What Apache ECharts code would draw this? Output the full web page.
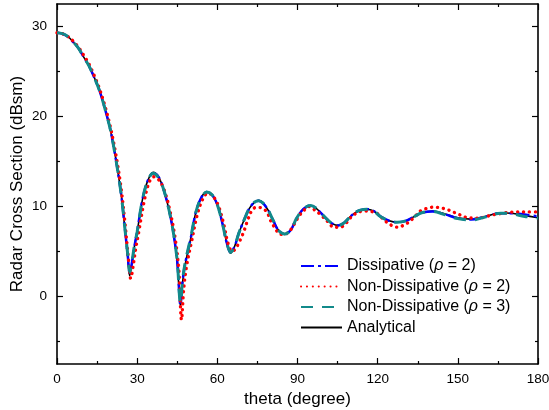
<!DOCTYPE html>
<html>
<head>
<meta charset="utf-8">
<script src="https://cdn.jsdelivr.net/npm/echarts@6/dist/echarts.min.js"></script>
<style>
html,body{margin:0;padding:0;background:#fff;}
#chart{width:549px;height:410px;}
</style>
</head>
<body>
<div id="chart"></div>
<script>
// ---- data ----
var xTicks = [0, 30, 60, 90, 120, 150, 180];
var yTickLabels = [0, 10, 20, 30];
var yMinorTicks = [-5, 5, 15, 25];

var thetaA = [0,2,4,6,8,10,12,14,16,18,20,22,24,25.5,26.5,27.2,28,29,30,32,34,36,38,40,42,43.6,45,46.2,47,48,50,52,54,56,58,60,62,63.5,65,66.5,68,70,72,74,75.5,77,79,81,83,85.3,87.5,89.5,91.5,93.5,95,97,99,101,103,105.3,107.5,109.5,111.5,113.5,116,118.5,121,124,127.4,130.5,133.5,136.5,140.5,145,150,155,160.5,166,170,175,180];
var rcsAnalytical = [29.3,29.2,28.9,28.3,27.6,26.6,25.6,24.3,22.8,20.8,18.5,15.3,11.4,7.2,4.3,2.3,3.6,5.6,7.2,10.8,12.9,13.8,13.3,11.8,9.5,7.0,3.8,-1.1,1.6,3.6,6.4,9.4,11.0,11.6,11.3,10.2,8.0,6.0,4.8,5.6,7.0,8.5,9.8,10.5,10.7,10.4,9.6,8.4,7.3,6.9,7.4,8.6,9.5,10.0,10.1,9.8,9.2,8.6,8.1,7.9,8.2,8.8,9.3,9.6,9.7,9.5,8.9,8.45,8.25,8.4,8.85,9.3,9.5,9.2,8.75,8.6,8.9,9.3,9.25,9.0,8.75];

var rcsDissipative = [29.3,29.2,28.9,28.3,27.6,26.6,25.6,24.3,22.8,20.8,18.5,15.3,11.4,7.3,4.5,2.6,3.7,5.6,7.2,10.8,12.9,13.7,13.3,11.8,9.5,7.0,3.9,-0.9,1.7,3.7,6.4,9.4,11.0,11.6,11.3,10.2,8.0,6.0,4.9,5.6,7.0,8.5,9.8,10.5,10.65,10.4,9.6,8.4,7.3,6.95,7.4,8.6,9.5,10.0,10.1,9.8,9.2,8.6,8.1,7.9,8.2,8.8,9.3,9.6,9.7,9.5,8.9,8.45,8.25,8.4,8.85,9.3,9.45,9.15,8.7,8.55,8.9,9.25,9.25,9.1,8.9];

var rcsNonDissP3 = [29.3,29.2,28.9,28.3,27.6,26.6,25.6,24.3,22.8,20.8,18.5,15.3,11.4,7.3,4.6,2.7,3.8,5.7,7.2,10.8,12.9,13.7,13.2,11.8,9.5,7.0,3.9,-0.7,1.8,3.8,6.5,9.4,11.0,11.6,11.3,10.2,8.0,6.0,4.9,5.6,7.0,8.5,9.8,10.5,10.65,10.4,9.6,8.4,7.3,6.95,7.4,8.6,9.5,10.0,10.1,9.8,9.2,8.6,8.1,7.9,8.2,8.8,9.3,9.6,9.7,9.5,8.9,8.45,8.25,8.4,8.85,9.3,9.45,9.1,8.65,8.5,8.85,9.25,9.2,8.9,8.7];

var thetaR = [0,2,4,6,8,10,12,14,16,18,20,22,24,25.5,26.8,27.6,28.5,29.5,30.5,32.5,34.5,36.3,38.5,40.5,42.5,44.2,45.6,46.6,47.4,48.5,50.5,52.5,54.5,56.5,58.5,60.5,62.5,64,65.6,67,68.6,70,71.5,73,74.5,76.5,78.5,80,81.8,83,84.5,86.5,88.5,90.5,92.5,94.5,96.5,99,101.4,103.6,106,108,110,113,116,119.9,122.4,124.9,127.4,129.6,131.8,134,136,138.6,141.1,143.6,146.1,148.4,150.8,153,156.5,160,162,167,170,175,180];
var rcsNonDissP2 = [29.3,29.2,28.9,28.4,27.7,26.8,25.8,24.5,23.0,21.1,18.8,15.8,12.0,8.0,4.0,2.0,3.4,5.4,7.0,10.4,12.7,13.3,12.8,11.5,9.2,6.5,3.0,-2.6,0.8,3.4,6.3,9.1,10.8,11.5,11.1,10.0,7.9,5.9,5.0,5.4,6.3,7.3,8.6,9.6,9.9,9.85,9.4,8.4,7.5,7.0,6.9,7.1,7.9,8.9,9.6,10.0,9.6,9.0,8.3,7.7,7.7,8.1,8.8,9.4,9.5,9.2,8.5,7.95,7.7,7.9,8.3,8.9,9.5,9.8,9.93,9.85,9.65,9.37,9.07,8.8,8.7,8.8,9.0,9.26,9.37,9.4,9.4];

var seriesNames = ['Dissipative', 'Non-Dissipative (p2)', 'Non-Dissipative (p3)', 'Analytical'];

function pairs(xs, ys){ return xs.map(function(x,i){ return [x, ys[i]]; }); }

var FONT = '"Liberation Sans", Arial, sans-serif';
var chart = echarts.init(document.getElementById('chart'), null, {renderer:'canvas'});

var axisLineStyle = {color:'#000', width:1.6};
function xAx(pos, labels){
  return {
    type:'value', position:pos, min:0, max:180, interval:30,
    axisLine:{show:true, onZero:false, lineStyle:axisLineStyle},
    axisTick:{show:true, inside:true, length:6, lineStyle:{color:'#000', width:1.2}},
    minorTick:{show:true, splitNumber:2, length:3, lineStyle:{color:'#000', width:1.2}},
    axisLabel:{show:labels, color:'#000', fontSize:13.5, fontFamily:FONT, margin:8},
    splitLine:{show:false}, minorSplitLine:{show:false},
    name: labels ? 'theta (degree)' : '', nameLocation:'middle', nameGap:26,
    nameTextStyle:{color:'#000', fontSize:17, fontFamily:FONT}
  };
}
function yAx(pos, values, len, labels, line, name){
  return {
    type:'value', position:pos, min:-7.5, max:32.5,
    axisLine:{show:line, onZero:false, lineStyle:axisLineStyle},
    axisTick:{show:true, inside:true, length:len, customValues:values, lineStyle:{color:'#000', width:1.2}},
    axisLabel:{show:labels, customValues:values, color:'#000', fontSize:13.5, fontFamily:FONT, margin:10},
    splitLine:{show:false},
    name: name || '', nameLocation:'middle', nameGap:31, nameMoveOverlap:false,
    nameTextStyle:{color:'#000', fontSize:17, fontFamily:FONT}
  };
}

var richText = {
  n:{fontSize:16, fontFamily:FONT, color:'#000'},
  i:{fontSize:16, fontFamily:FONT, color:'#000', fontStyle:'italic'}
};
var legendLabels = {
  'Dissipative': '{n|Dissipative (}{i|ρ}{n| = 2)}',
  'Non-Dissipative (p2)': '{n|Non-Dissipative (}{i|ρ}{n| = 2)}',
  'Non-Dissipative (p3)': '{n|Non-Dissipative (}{i|ρ}{n| = 3)}',
  'Analytical': '{n|Analytical}'
};

var option = {
  animation:false,
  backgroundColor:'#fff',
  grid:{left:57, right:11, top:4, bottom:46, containLabel:false, outerBoundsMode:'none'},
  xAxis:[xAx('bottom', true), xAx('top', false)],
  yAxis:[
    yAx('left', yTickLabels, 6, true, true, 'Radar Cross Section (dBsm)'),
    yAx('left', yMinorTicks, 3, false, false),
    yAx('right', yTickLabels, 6, false, true),
    yAx('right', yMinorTicks, 3, false, false)
  ],
  legend:{
    orient:'vertical', left:295, top:253,
    itemWidth:41, itemHeight:14, itemGap:4.5,
    data:seriesNames,
    itemStyle:{opacity:0},
    formatter:function(n){ return legendLabels[n]; },
    textStyle:{rich:richText, lineHeight:16},
    selectedMode:false
  },
  series:[
    {name:seriesNames[0], type:'line', xAxisIndex:0, yAxisIndex:0, z:3,
     data:pairs(thetaA, rcsDissipative), symbol:'none', smooth:0.35,
     lineStyle:{color:'#0000ff', width:2.5, type:[13,4,3,4]}, itemStyle:{color:'#0000ff'}},
    {name:seriesNames[1], type:'line', xAxisIndex:0, yAxisIndex:0, z:4,
     data:pairs(thetaR, rcsNonDissP2), symbol:'none', smooth:0.35,
     lineStyle:{color:'#ff0000', width:3.4, type:[0.1,5.8], cap:'round'}, itemStyle:{color:'#ff0000'}},
    {name:seriesNames[2], type:'line', xAxisIndex:0, yAxisIndex:0, z:5,
     data:pairs(thetaA, rcsNonDissP3), symbol:'none', smooth:0.35,
     lineStyle:{color:'#128a8a', width:3, type:[12,9]}, itemStyle:{color:'#128a8a'}},
    {name:seriesNames[3], type:'line', xAxisIndex:0, yAxisIndex:0, z:2,
     data:pairs(thetaA, rcsAnalytical), symbol:'none', smooth:0.35,
     lineStyle:{color:'#000', width:1.6, type:'solid'}, itemStyle:{color:'#000'}}
  ]
};
chart.setOption(option);
</script>
</body>
</html>
